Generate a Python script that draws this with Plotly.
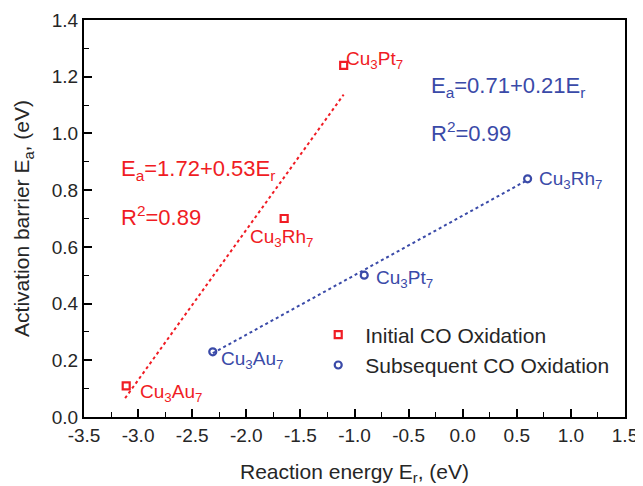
import plotly.graph_objects as go

# Data
init_names = ["Cu<sub>3</sub>Pt<sub>7</sub>", "Cu<sub>3</sub>Rh<sub>7</sub>", "Cu<sub>3</sub>Au<sub>7</sub>"]
init_er = [-1.10, -1.65, -3.11]
init_ea = [1.24, 0.70, 0.11]

sub_names = ["Cu<sub>3</sub>Au<sub>7</sub>", "Cu<sub>3</sub>Pt<sub>7</sub>", "Cu<sub>3</sub>Rh<sub>7</sub>"]
sub_er = [-2.31, -0.91, 0.60]
sub_ea = [0.23, 0.50, 0.84]

init_fit_x = [-3.12, -1.10]
init_fit_y = [1.72 + 0.53 * x for x in init_fit_x]
sub_fit_x = [-2.31, 0.60]
sub_fit_y = [0.71 + 0.21 * x for x in sub_fit_x]

x_ticks = [-3.5, -3.0, -2.5, -2.0, -1.5, -1.0, -0.5, 0.0, 0.5, 1.0, 1.5]
x_tick_text = ["-3.5", "-3.0", "-2.5", "-2.0", "-1.5", "-1.0", "-0.5", "0.0", "0.5", "1.0", "1.5"]
y_ticks = [0.0, 0.2, 0.4, 0.6, 0.8, 1.0, 1.2, 1.4]
y_tick_text = ["0.0", "0.2", "0.4", "0.6", "0.8", "1.0", "1.2", "1.4"]

RED = "#f01c24"
BLUE = "#3a4aa8"
TXT = "#262626"
FONT = "Liberation Sans, Arial, sans-serif"

fig = go.Figure()
fig.add_trace(go.Scatter(x=init_fit_x, y=init_fit_y, mode="lines",
                         line=dict(color=RED, width=2, dash="dot"), showlegend=False))
fig.add_trace(go.Scatter(x=sub_fit_x, y=sub_fit_y, mode="lines",
                         line=dict(color=BLUE, width=2, dash="dot"), showlegend=False))
fig.add_trace(go.Scatter(x=init_er, y=init_ea, mode="markers", name="Initial CO Oxidation",
                         marker=dict(symbol="square-open", size=7, color=RED, line=dict(width=2.2))))
fig.add_trace(go.Scatter(x=sub_er, y=sub_ea, mode="markers", name="Subsequent CO Oxidation",
                         marker=dict(symbol="circle-open", size=7, color=BLUE, line=dict(width=2.2))))

# point labels
init_lab_pos = [(-1.10, 1.26), (-1.98, 0.63), (-3.00, 0.085)]
sub_lab_pos = [(-2.25, 0.20), (-0.82, 0.485), (0.69, 0.835)]
for name, (lx, ly) in zip(init_names, init_lab_pos):
    fig.add_annotation(x=lx, y=ly, text=name, showarrow=False, xanchor="left", yanchor="middle",
                       font=dict(color=RED, size=19, family=FONT))
for name, (lx, ly) in zip(sub_names, sub_lab_pos):
    fig.add_annotation(x=lx, y=ly, text=name, showarrow=False, xanchor="left", yanchor="middle",
                       font=dict(color=BLUE, size=19, family=FONT))

# equations
fig.add_annotation(x=-3.18, y=0.87, text="E<sub>a</sub>=1.72+0.53E<sub>r</sub>", showarrow=False,
                   xanchor="left", yanchor="middle", font=dict(color=RED, size=22, family=FONT))
fig.add_annotation(x=-3.18, y=0.71, text="R<sup>2</sup>=0.89", showarrow=False,
                   xanchor="left", yanchor="middle", font=dict(color=RED, size=22, family=FONT))
fig.add_annotation(x=-0.31, y=1.165, text="E<sub>a</sub>=0.71+0.21E<sub>r</sub>", showarrow=False,
                   xanchor="left", yanchor="middle", font=dict(color=BLUE, size=22, family=FONT))
fig.add_annotation(x=-0.31, y=1.005, text="R<sup>2</sup>=0.99", showarrow=False,
                   xanchor="left", yanchor="middle", font=dict(color=BLUE, size=22, family=FONT))

axis_common = dict(showline=True, linecolor="black", linewidth=2, mirror=True,
                   ticks="inside", ticklen=8, tickwidth=1.5, tickcolor="black",
                   showgrid=False, zeroline=False, automargin=False,
                   tickfont=dict(size=19, family=FONT, color=TXT))

fig.update_xaxes(range=[-3.5, 1.5], tickmode="array", tickvals=x_ticks, ticktext=x_tick_text,
                 minor=dict(ticks="inside", ticklen=5, dtick=0.25, tick0=-3.5, tickcolor="black", tickwidth=1.2),
                 title=dict(text="Reaction energy E<sub>r</sub>, (eV)", font=dict(size=21, family=FONT, color=TXT),
                            standoff=20),
                 **axis_common)
fig.update_yaxes(range=[0, 1.4], tickmode="array", tickvals=y_ticks, ticktext=y_tick_text,
                 minor=dict(ticks="inside", ticklen=5, dtick=0.1, tick0=0, tickcolor="black", tickwidth=1.2),
                 title=dict(text="Activation barrier E<sub>a</sub>, (eV)", font=dict(size=21, family=FONT, color=TXT),
                            standoff=16),
                 **axis_common)

# page body has an 8px default margin: compensate so the plot area lands where the reference has it
fig.update_layout(width=635, height=478, margin=dict(l=76, r=18, t=12, b=69),
                  plot_bgcolor="white", paper_bgcolor="white",
                  legend=dict(x=0.42, y=0.258, xanchor="left", yanchor="top",
                              bgcolor="rgba(0,0,0,0)", font=dict(size=21, family=FONT, color=TXT),
                              itemwidth=44, tracegroupgap=0))

fig.write_html("out.html")
